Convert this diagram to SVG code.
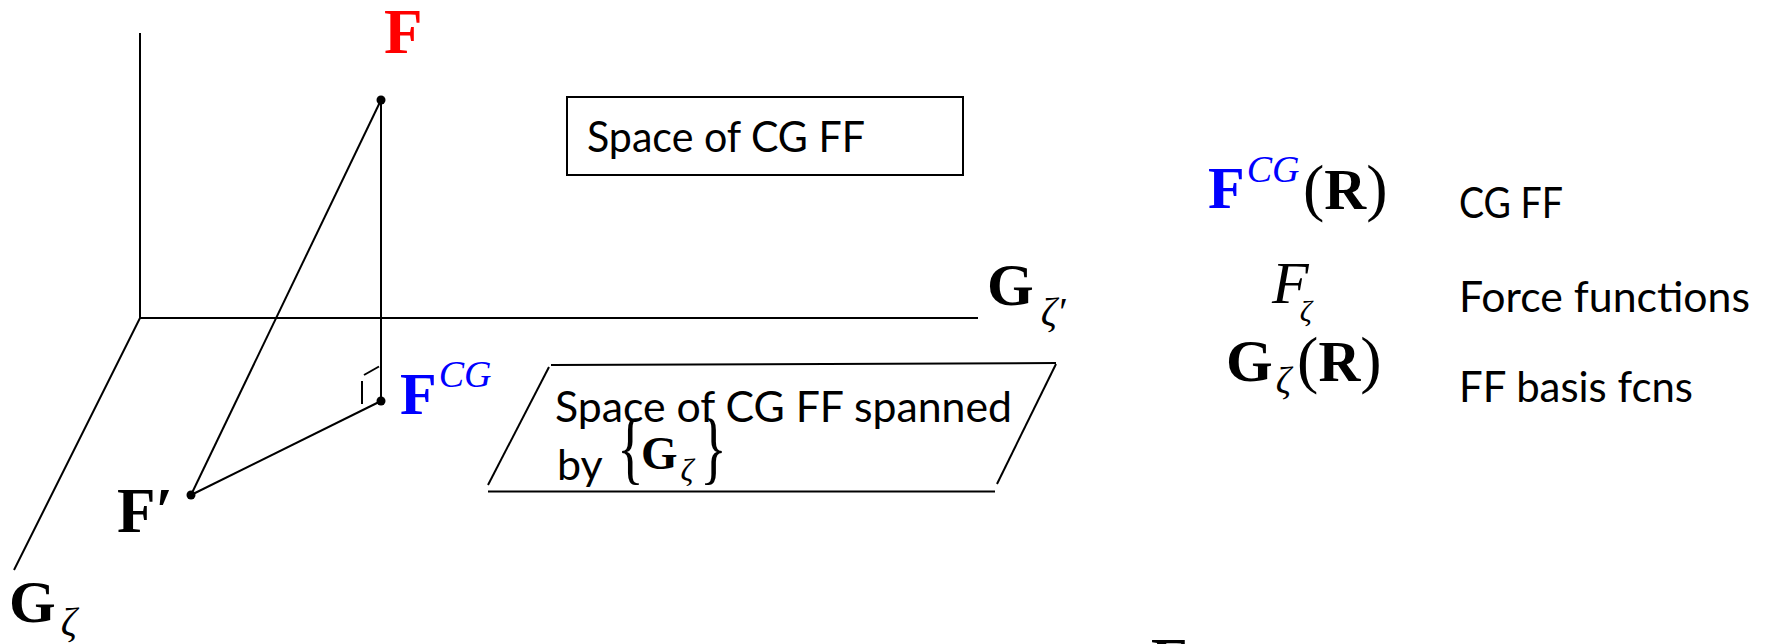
<svg xmlns="http://www.w3.org/2000/svg" width="1767" height="644" viewBox="0 0 1767 644">
<style>
.ln{stroke:#000;stroke-width:2;fill:none}
.dot{fill:#000}
.m{font-family:"Liberation Serif","Times New Roman",serif}
.b{font-weight:bold}
.i{font-style:italic}
.t{font-family:Lato,"Open Sans","Noto Sans",sans-serif;font-size:43px;fill:#000}
.red{fill:#ff0000}
.blue{fill:#0000ff}
</style>
<rect width="1767" height="644" fill="#fff"/>
<g id="axes">
<line class="ln" x1="140" y1="33" x2="140" y2="318"/>
<line class="ln" x1="140" y1="318" x2="978" y2="318"/>
<line class="ln" x1="140" y1="318" x2="14" y2="570"/>
<text class="m b" x="987" y="305" font-size="60">G<tspan class="i" font-weight="normal" font-size="40" dx="7" dy="20">ζ′</tspan></text>
<text class="m b" x="9" y="622" font-size="60">G<tspan class="i" font-weight="normal" font-size="40" dx="5" dy="13">ζ</tspan></text>
</g>
<g id="connectors">
<line class="ln" x1="381" y1="100" x2="381" y2="401"/>
<line class="ln" x1="381" y1="100" x2="191" y2="495"/>
<line class="ln" x1="191" y1="495" x2="381" y2="401"/>
<line class="ln" x1="362" y1="381" x2="362" y2="404"/>
<line class="ln" x1="364" y1="375" x2="379" y2="366.5"/>
</g>
<g id="node-F">
<circle class="dot" cx="381" cy="100" r="4.5"/>
<text class="m b red" x="384" y="53" font-size="63">F</text>
</g>
<g id="node-Fprime">
<circle class="dot" cx="191" cy="495" r="4.5"/>
<text class="m b" x="117" y="532" font-size="63">F′</text>
</g>
<g id="node-FCG">
<circle class="dot" cx="381" cy="401" r="4.5"/>
<text class="m b blue" x="400" y="414" font-size="60">F<tspan class="i" font-weight="normal" font-size="38" dx="2" dy="-27">CG</tspan></text>
</g>
<g id="box-space">
<rect x="567" y="97" width="396" height="78" fill="none" stroke="#000" stroke-width="2"/>
<text class="t" x="587" y="152" textLength="278" lengthAdjust="spacingAndGlyphs">Space of CG FF</text>
</g>
<g id="plane">
<line class="ln" x1="551" y1="365" x2="1056" y2="363"/>
<line class="ln" x1="549" y1="367" x2="488" y2="485"/>
<line class="ln" x1="488" y1="491.5" x2="995" y2="491.5"/>
<line class="ln" x1="1056" y1="364" x2="997" y2="484"/>
<text class="t" x="555" y="422" textLength="457" lengthAdjust="spacingAndGlyphs">Space of CG FF spanned</text>
<text class="t" x="557" y="480">by</text>
<text class="m" transform="translate(617,474) scale(1,1.45)" font-size="56">{</text>
<text class="m b" x="641" y="469" font-size="47">G<tspan class="i" font-weight="normal" font-size="32" dx="3" dy="12">ζ</tspan></text>
<text class="m" transform="translate(700,474) scale(1,1.45)" font-size="56">}</text>
</g>
<g id="legend-FCG">
<text class="m b blue" x="1208" y="208" font-size="60">F<tspan class="i" font-weight="normal" font-size="38" dx="2" dy="-26">CG</tspan></text>
<text class="m" x="1303" y="209" font-size="64">(<tspan class="b" font-size="58">R</tspan>)</text>
<text class="t" x="1459" y="218" textLength="104" lengthAdjust="spacingAndGlyphs">CG FF</text>
</g>
<g id="legend-Fz">
<text class="m i" x="1272" y="303" font-size="60">F<tspan font-size="30" dx="-9" dy="18">ζ</tspan></text>
<text class="t" x="1459" y="312" textLength="291" lengthAdjust="spacingAndGlyphs">Force functions</text>
</g>
<g id="legend-Gz">
<text class="m b" x="1226" y="381" font-size="60">G<tspan class="i" font-weight="normal" font-size="38" dx="3" dy="12">ζ</tspan><tspan font-weight="normal" font-size="64" dx="6" dy="-12">(</tspan><tspan font-size="58">R</tspan><tspan font-weight="normal" font-size="64">)</tspan></text>
<text class="t" x="1459" y="402" textLength="234" lengthAdjust="spacingAndGlyphs">FF basis fcns</text>
</g>
<g id="node-bottom-F">
<text class="m b" x="1151" y="679" font-size="60">F</text>
</g>
</svg>
